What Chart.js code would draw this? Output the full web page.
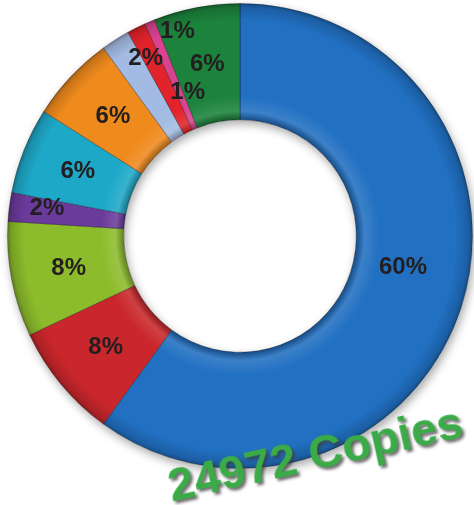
<!DOCTYPE html>
<html>
<head>
<meta charset="utf-8">
<script src="https://cdn.jsdelivr.net/npm/chart.js@4"></script>
<style>
  html, body { margin: 0; padding: 0; background: #fff; }
  #wrap { position: relative; width: 474px; height: 505px; overflow: hidden; }
  #copies {
    position: absolute; left: 315px; top: 453px;
    transform: translate(-50%, -50%) rotate(-12.5deg);
    font-family: "Liberation Sans", Arial, sans-serif; font-weight: bold;
    font-size: 47px; color: #3aab47; white-space: nowrap;
    text-shadow: 2px 3px 3px rgba(60,60,60,0.75);
  }
</style>
</head>
<body>
<div id="wrap">
  <canvas id="donut" width="474" height="505"></canvas>
  <div id="copies">24972 Copies</div>
</div>
<script>
const categories = ['A', 'B', 'C', 'D', 'E', 'F', 'G', 'H', 'I', 'J'];
const shares = [60, 8, 8, 2, 6, 6, 2, 1.3, 0.7, 6];
const shareLabels = ['60%', '8%', '8%', '2%', '6%', '6%', '2%', '1%', '1%', '6%'];
const colors = ['#2170c2', '#c9272b', '#8cbc2c', '#6b3b9c', '#1ea8c8', '#ef8a1d', '#a3bbe2', '#e3232b', '#d8428f', '#1c833c'];

// label placement tweaks: [radius, angle from 12 o'clock, clockwise] or null = slice centre
const labelPos = [[166, 101], null, null, [195, 278], null, null, [201, 332], [153, 340], [214, 343], null];

function shade(hex, f) {
  const n = parseInt(hex.slice(1), 16);
  let r = n >> 16, g = (n >> 8) & 255, b = n & 255;
  const t = f < 0 ? 0 : 255, p = Math.abs(f);
  r = Math.round((t - r) * p + r); g = Math.round((t - g) * p + g); b = Math.round((t - b) * p + b);
  return `rgb(${r},${g},${b})`;
}

function bevel(ctx) {
  const c = ctx.chart, a = c.chartArea;
  const base = colors[ctx.dataIndex];
  if (!a) return base;
  const cx = (a.left + a.right) / 2, cy = (a.top + a.bottom) / 2;
  const outer = Math.min(a.right - a.left, a.bottom - a.top) / 2, inner = outer * 0.5;
  const g = c.ctx.createRadialGradient(cx, cy, inner, cx, cy, outer);
  g.addColorStop(0, shade(base, -0.3));
  g.addColorStop(0.07, shade(base, 0.12));
  g.addColorStop(0.2, base);
  g.addColorStop(0.85, base);
  g.addColorStop(0.96, shade(base, -0.15));
  g.addColorStop(1, shade(base, -0.35));
  return g;
}

const ringShadow = {
  id: 'ringShadow',
  beforeDatasetsDraw(chart) {
    const arc = chart.getDatasetMeta(0).data[0];
    if (!arc) return;
    const ctx = chart.ctx;
    ctx.save();
    ctx.shadowColor = 'rgba(0,0,0,0.35)';
    ctx.shadowBlur = 10;
    ctx.shadowOffsetX = 2;
    ctx.shadowOffsetY = 4;
    ctx.fillStyle = '#fff';
    ctx.beginPath();
    ctx.arc(arc.x, arc.y, arc.outerRadius, 0, Math.PI * 2);
    ctx.arc(arc.x, arc.y, arc.innerRadius, 0, Math.PI * 2, true);
    ctx.fill();
    ctx.restore();
  }
};

const sliceLabels = {
  id: 'sliceLabels',
  afterDatasetsDraw(chart) {
    const ctx = chart.ctx;
    ctx.save();
    ctx.font = 'bold 24px "Liberation Sans", Arial, sans-serif';
    ctx.fillStyle = '#231f20';
    ctx.textAlign = 'center';
    ctx.textBaseline = 'middle';
    chart.getDatasetMeta(0).data.forEach((arc, i) => {
      let p = arc.getCenterPoint();
      if (labelPos[i]) {
        const [r, deg] = labelPos[i];
        const t = deg * Math.PI / 180;
        p = { x: arc.x + r * Math.sin(t), y: arc.y - r * Math.cos(t) };
      }
      ctx.fillText(shareLabels[i], p.x, p.y);
    });
    ctx.restore();
  }
};

new Chart(document.getElementById('donut'), {
  type: 'doughnut',
  data: {
    labels: categories,
    datasets: [{
      data: shares,
      backgroundColor: bevel,
      borderColor: 'rgba(0,0,0,0.3)',
      borderWidth: 1
    }]
  },
  options: {
    responsive: false,
    animation: false,
    cutout: '50%',
    layout: { padding: { left: 7, right: 1, top: 3, bottom: 36 } },
    plugins: {
      legend: { display: false },
      tooltip: { enabled: false }
    }
  },
  plugins: [ringShadow, sliceLabels]
});
</script>
</body>
</html>
